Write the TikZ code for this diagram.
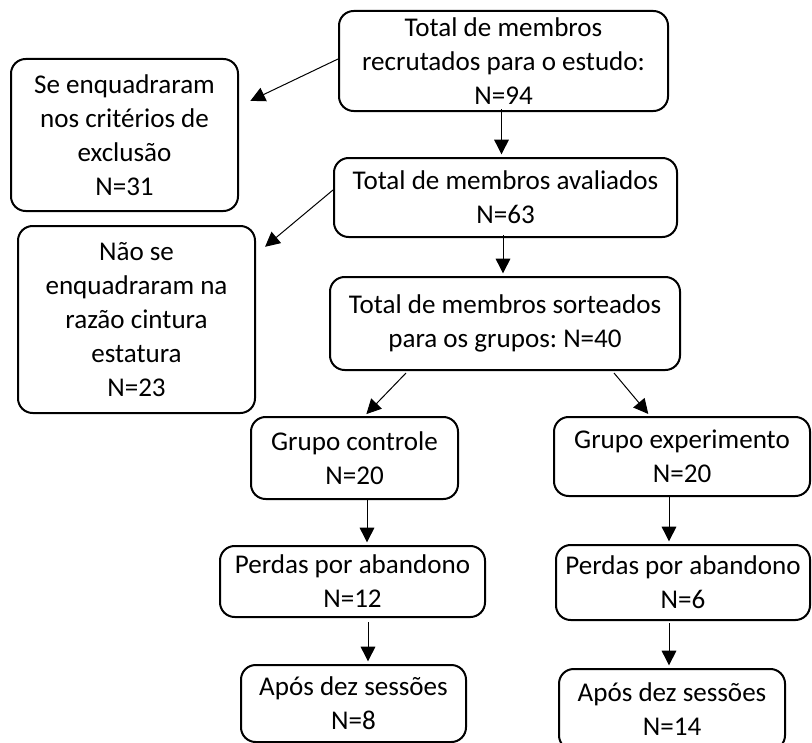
\documentclass[tikz,border=0pt]{standalone}
\usepackage{fontspec}
\setmainfont{Carlito}
\usetikzlibrary{arrows.meta}

\begin{document}
\frenchspacing
\begin{tikzpicture}[x=0.75pt, y=-0.75pt,
    box/.style={draw, line width=1.5pt, rounded corners=11pt, align=center, inner sep=0pt,
        font=\fontsize{20.3}{25.5}\selectfont},
    seta/.style={-{Triangle[length=11pt, width=11pt]}, line width=0.75pt, shorten >=2pt}]
    \useasboundingbox (0,0) rectangle (812,742);
    \node[box, minimum width=246.75pt, minimum height=75pt] (rec) at (503.5,61) {Total de membros\\recrutados para o estudo:\\N=94};
    \node[box, minimum width=170.25pt, minimum height=114pt] (exc) at (124.5,135) {Se enquadraram\\nos critérios de\\exclusão\\N=31};
    \node[box, minimum width=257.25pt, minimum height=59.25pt] (aval) at (505.5,197.5) {Total de membros avaliados\\N=63};
    \node[box, minimum width=177.75pt, minimum height=140.25pt] (rce) at (136.5,319.5) {Não se\\enquadraram na\\razão cintura\\estatura\\N=23};
    \node[box, minimum width=262.5pt, minimum height=69.75pt] (sort) at (505,323.5) {Total de membros sorteados\\para os grupos: N=40};
    \node[box, minimum width=155.25pt, minimum height=61.5pt] (gc) at (354.5,458) {Grupo controle\\N=20};
    \node[box, minimum width=192pt, minimum height=59.25pt] (ge) at (682,456.5) {Grupo experimento\\N=20};
    \node[box, minimum width=198.75pt, minimum height=53.25pt] (pc) at (352.5,581.5) {Perdas por abandono\\N=12};
    \node[box, minimum width=190.5pt, minimum height=56.25pt] (pe) at (683,582.5) {Perdas por abandono\\N=6};
    \node[box, minimum width=168.75pt, minimum height=57.75pt] (ac) at (353.5,703.5) {Após dez sessões\\N=8};
    \node[box, minimum width=169.5pt, minimum height=60.75pt] (ae) at (672,709.5) {Após dez sessões\\N=14};
    \draw[seta] ([shift={(0,-2)}]rec.west) -- ([shift={(9,-33)}]exc.east);
    \draw[seta] ([shift={(-2,-3)}]rec.south) -- ([shift={(-4,0)}]aval.north);
    \draw[seta] ([shift={(0,-7.5)}]aval.west) -- ([shift={(7,-71)}]rce.east);
    \draw[seta] ([shift={(-2.5,-3)}]aval.south) -- ([shift={(-2,0)}]sort.north);
    \draw[seta] ([shift={(-99,2)}]sort.south) -- ([shift={(10,0)}]gc.north);
    \draw[seta] ([shift={(109,2)}]sort.south) -- ([shift={(-32,0)}]ge.north);
    \draw[seta] ([shift={(12.5,0)}]gc.south) -- ([shift={(14.5,0)}]pc.north);
    \draw[seta] ([shift={(15.5,4)}]pc.south) -- ([shift={(14.5,0)}]ac.north);
    \draw[seta] ([shift={(-13,0)}]ge.south) -- ([shift={(-14,0)}]pe.north);
    \draw[seta] ([shift={(-14,2)}]pe.south) -- ([shift={(-3,0)}]ae.north);
\end{tikzpicture}
\end{document}
